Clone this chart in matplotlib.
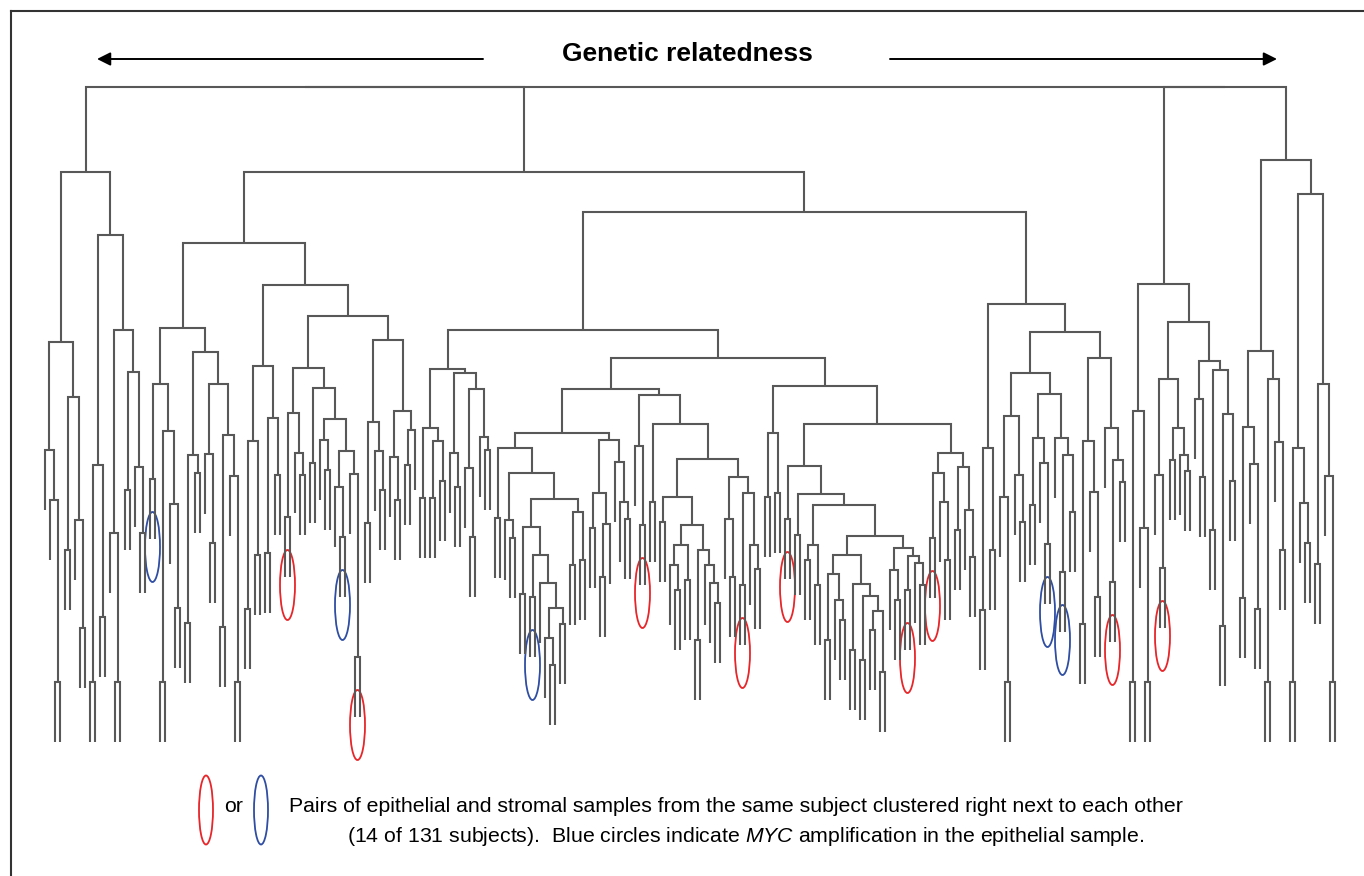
"""
Dendrogram of epithelial / stromal samples (131 subjects) with
adjacent same-subject pairs circled.
Tree is written as small newick pieces: L = sample, R = circled pair (red),
B = circled pair with MYC amplification (blue). Number after ")" = merge height.
"""
import re
import matplotlib.pyplot as plt
from matplotlib.collections import LineCollection
from matplotlib.patches import Ellipse
from matplotlib.lines import Line2D

plt.rcParams["font.family"] = ["Liberation Sans", "DejaVu Sans"]
plt.rcParams["mathtext.fontset"] = "custom"
plt.rcParams["mathtext.rm"] = "Liberation Sans"
plt.rcParams["mathtext.it"] = "Liberation Sans:italic"

# --- tree data (merge heights) ---
A1 = "((L,(L,(L,L)1.18)3.00)3.50,((L,L)2.50,(L,(L,L)1.72)2.80)4.03)4.58"
A2 = "(((L,L)1.18,(L,L)1.83)3.35,((L,(L,L)1.18)2.67,((L,L)3.10,(L,(L,L)2.67)3.33)4.28)4.70)5.65"
CLADE_A = f"({A1},{A2})6.28"

B_LL_L = "((B,B)3.21,((L,L)1.18,(L,(L,L)1.92)2.96)3.69)4.16"
B_LL_R = "(((L,L)1.77,(L,L)3.27)3.45,((L,(L,L)2.57)3.46,((L,L)1.73,(L,(L,L)1.18)3.24)3.65)4.16)4.48"
B_LL = f"({B_LL_L},{B_LL_R})4.72"

SUB_262 = "(((L,L)1.91,(L,L)2.45)3.59,((L,L)2.47,(L,L)3.25)3.82)4.34"
SUB_293 = "((R,R)2.83,(L,(L,L)3.25)3.47)3.87"
SUB_326 = "((L,L)3.37,((L,(L,L)3.30)3.60,((L,(B,B)2.63)3.13,(L,(R,R)1.43)3.26)3.49)3.81)4.12"
SUB_384 = "(((L,L)2.77,(L,(L,L)3.10)3.49)3.78,((L,(L,L)3.00)3.43,((L,L)3.35,L)3.70)3.89)4.60"
B_LR = f"({SUB_262},(({SUB_293},{SUB_326})4.32,{SUB_384})4.84)5.15"
B_LEFT = f"({B_LL},{B_LR})5.57"

B_R_LL = ("(((L,L)3.02,((L,L)3.02,(L,L)3.19)3.59)3.72,"
          "((L,(L,L)3.13)3.47,((L,(L,L)2.63)3.32,(L,(L,L)3.50)3.63)4.11)4.27)4.31")
Y2A = "((L,L)2.06,((B,B)2.03,(L,((L,(L,L)1.35)1.62,(L,L)1.76)1.92)2.17)2.45)2.73"
SUB_510 = f"((L,L)2.82,((L,(L,L)2.62)2.80,({Y2A},((L,L)2.35,(L,L)2.40)2.88)3.01)3.27)3.52"
SUB_608 = "(((L,L)2.72,((L,L)2.23,L)2.76)3.07,(L,(L,(L,L)2.81)2.98)3.38)3.60"
SUB_558 = f"({SUB_510},{SUB_608})3.67"
SUB_673 = ("((L,L)2.78,(((L,(L,L)2.10)2.35,(L,L)2.20)2.55,"
           "((L,L)1.60,(L,(L,(L,L)1.97)2.17)2.35)2.50)2.75)3.03")
SUB_733 = "((L,(L,L)2.23)2.81,((R,R)2.15,(L,(L,L)2.31)2.55)3.07)3.23"
SUB_657 = f"((L,(R,R)2.75)3.54,((L,L)2.98,({SUB_673},{SUB_733})3.41)3.76)4.05"
S584 = "((L,L)1.50,((L,L)1.40,((L,L)1.70,(L,L)1.28)1.89)2.04)2.16"
W1 = f"(((L,L)1.60,(L,(L,L)1.80)2.00)2.26,{S584})2.45"
W2 = "((L,(L,L)2.00)2.30,((R,R)2.10,(L,(L,L)2.15)2.37)2.44)2.52"
SUB_800 = f"((R,R)2.81,((L,L)2.65,(((L,L)2.40,(L,L)2.15)2.55,({W1},{W2})2.64)2.95)3.06)3.34"
SUB_953 = "(((R,R)2.62,(L,(L,L)2.40)2.98)3.27,((L,L)2.70,(L,(L,L)2.43)2.90)3.33)3.47"
SUB_825 = f"(((L,L)3.03,(L,L)3.07)3.67,({SUB_800},{SUB_953})3.76)4.14"
B_R_LEFT = f"({B_R_LL},(({SUB_558},{SUB_657})4.11,{SUB_825})4.42)4.70"

SUB_990 = "((L,L)1.90,(L,L)2.50)3.52"
SUB_1013 = "((L,(L,L)1.18)3.03,(L,(L,L)2.78)3.25)3.84"
SUB_1052 = "(((L,L)2.95,(L,(B,B)2.56)3.37)3.62,(L,((B,B)2.28,(L,L)2.88)3.45)3.62)4.06"
SUB_1102 = "(((L,L)1.76,(L,(L,L)2.03)3.08)3.59,(L,((R,R)2.18,(L,L)3.18)3.40)3.72)4.42"
B_R_RIGHT = f"({SUB_990},(({SUB_1013},{SUB_1052})4.27,{SUB_1102})4.68)4.96"
CLADE_B = f"({B_LEFT},({B_R_LEFT},{B_R_RIGHT})5.88)6.28"

SUB_1140 = "((L,L)1.18,(L,(L,L)1.18)2.72)3.89"
SUB_1171 = "((L,(R,R)2.32)3.25,((L,L)3.40,(L,(L,L)3.29)3.45)3.72)4.21"
SUB_1212 = "((L,(L,L)3.23)4.01,((L,L)2.70,((L,L)1.74,(L,L)3.19)3.86)4.30)4.39"
CLADE_C = f"({SUB_1140},({SUB_1171},{SUB_1212})4.78)5.16"

SUB_1263 = "(((L,L)2.02,(L,(L,L)1.91)3.36)3.73,((L,L)1.18,(L,(L,L)2.50)3.58)4.21)4.49"
SUB_1313 = "(((L,L)1.18,(L,(L,L)2.57)2.97)3.52,((L,L)2.36,(L,(L,L)1.18)3.24)4.16)6.06"
CLADE_D = f"({SUB_1263},{SUB_1313})6.40"

TREE = f"(({CLADE_A},{CLADE_B})7.13,({CLADE_C},{CLADE_D})7.13)7.13"

HANG = 0.60           # leaves hang this far below their merge
PAIR_COLORS = {"R": "#e8262a", "B": "#2f4ea3"}


def parse(s):
    pos = 0

    def node():
        nonlocal pos
        if s[pos] == "(":
            pos += 1
            left = node()
            pos += 1  # ','
            right = node()
            pos += 1  # ')'
            num = re.match(r"[0-9.]+", s[pos:]).group()
            pos += len(num)
            return {"h": float(num), "kids": [left, right]}
        code = s[pos]
        pos += 1
        return {"code": code}

    return node()


root = parse(TREE)

# --- layout: leaves in order, internal node at middle of its children ---
counter = [0]


def place(n):
    if "kids" not in n:
        n["x"] = counter[0]
        counter[0] += 1
        return
    for k in n["kids"]:
        place(k)
    n["x"] = (n["kids"][0]["x"] + n["kids"][1]["x"]) / 2


place(root)
n_leaves = counter[0]

segments = []
pairs = []


def collect(n):
    if "kids" not in n:
        return
    k1, k2 = n["kids"]
    h1 = k1["h"] if "kids" in k1 else n["h"] - HANG
    h2 = k2["h"] if "kids" in k2 else n["h"] - HANG
    segments.append([(k1["x"], h1), (k1["x"], n["h"]), (k2["x"], n["h"]), (k2["x"], h2)])
    if k1.get("code") in PAIR_COLORS and k2.get("code") == k1.get("code"):
        pairs.append((n["x"], n["h"], k1["code"]))
    for k in n["kids"]:
        collect(k)


collect(root)
print("leaves:", n_leaves, "pairs:", len(pairs))

W, H = 1364, 876
fig = plt.figure(figsize=(W / 100, H / 100), dpi=100)
ax = fig.add_axes([0, 0, 1, 1])
ax.set_xlim(-9, 263.8)
ax.set_ylim(-0.76, 8.0)
ax.axis("off")

lc = LineCollection(segments, colors="#585858", linewidths=1.5, joinstyle="miter", capstyle="butt")
ax.add_collection(lc)

for x, h, code in pairs:
    ax.add_patch(Ellipse((x, h - 0.68), 3.0, 0.70, fill=False,
                         edgecolor=PAIR_COLORS[code], lw=1.3))

# frame (top and left edge only)
fig.add_artist(Line2D([11 / W, 11 / W], [0, 1 - 11 / H], color="#333333", lw=1.5))
fig.add_artist(Line2D([11 / W, 1], [1 - 11 / H, 1 - 11 / H], color="#333333", lw=1.5))

# title with arrows
fig.text(687 / W, 1 - 54 / H, "Genetic relatedness", ha="center", va="center",
         fontsize=19, fontweight="bold")
arrow = dict(arrowstyle="-|>", color="black", lw=1.4, mutation_scale=20, shrinkA=0, shrinkB=0)
ax.annotate("", xy=(97, H - 59), xytext=(483, H - 59), xycoords="figure pixels",
            textcoords="figure pixels", arrowprops=arrow)
ax.annotate("", xy=(1277, H - 59), xytext=(890, H - 59), xycoords="figure pixels",
            textcoords="figure pixels", arrowprops=arrow)

# legend
for px, col in [(206, PAIR_COLORS["R"]), (261, PAIR_COLORS["B"])]:
    fig.add_artist(Ellipse((px / W, 1 - 810 / H), 14 / W, 69 / H, fill=False,
                           edgecolor=col, lw=1.3, transform=fig.transFigure))
fig.text(234 / W, 1 - 806 / H, "or", ha="center", va="center", fontsize=15.3)
fig.text(289 / W, 1 - 806 / H,
         "Pairs of epithelial and stromal samples from the same subject clustered right next to each other",
         ha="left", va="center", fontsize=15.3)
fig.text(347 / W, 1 - 836 / H,
         r"(14 of 131 subjects).  Blue circles indicate $\mathit{MYC}$ amplification in the epithelial sample.",
         ha="left", va="center", fontsize=15.3)

plt.savefig("out.png", dpi=100)
plt.close()
